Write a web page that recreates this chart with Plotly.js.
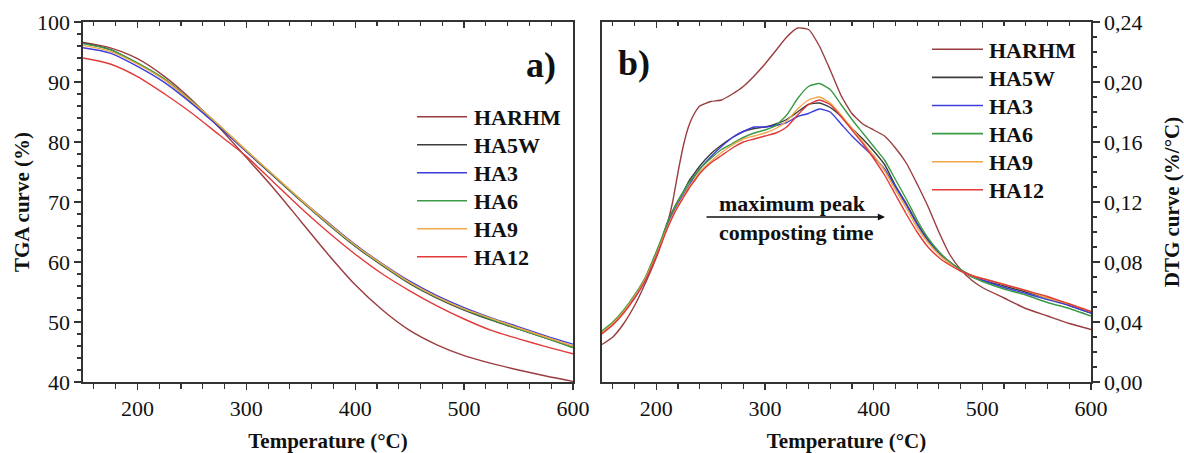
<!DOCTYPE html>
<html>
<head>
<meta charset="utf-8">
<script src="https://cdn.plot.ly/plotly-3.0.1.min.js"></script>
<style>html,body{margin:0;padding:0;background:#fff;}#chart{width:1184px;height:453px;}</style>
</head>
<body>
<div id="chart"></div>
<script>
// ---------- DATA ----------
const seriesNames = ["HARHM", "HA5W", "HA3", "HA6", "HA9", "HA12"];

// Panel a) TGA curve (%)
const tempTGA = [150,175,200,225,250,275,300,325,350,375,400,425,450,475,500,525,550,575,600];
const tgaHARHM = [96.6,95.7,93.9,90.9,87.0,82.4,77.4,72.3,66.8,61.3,56.2,52.0,48.6,46.2,44.4,43.1,42.0,41.0,40.1];
const tgaHA5W  = [96.5,95.4,93.1,90.4,86.6,82.6,78.4,74.3,70.2,66.3,62.6,59.4,56.4,54.0,52.0,50.3,48.8,47.3,45.8];
const tgaHA3   = [95.7,94.8,92.6,89.9,86.4,82.5,78.4,74.4,70.4,66.6,62.9,59.7,56.8,54.4,52.4,50.7,49.2,47.7,46.3];
const tgaHA6   = [96.4,95.4,93.2,90.5,86.8,82.8,78.6,74.4,70.3,66.4,62.7,59.5,56.5,54.1,52.1,50.4,48.8,47.3,45.7];
const tgaHA9   = [96.1,95.1,93.0,90.3,86.7,82.8,78.6,74.5,70.4,66.5,62.8,59.6,56.6,54.2,52.2,50.6,49.0,47.5,46.0];
const tgaHA12  = [94.0,93.0,90.9,88.0,84.8,81.2,77.6,73.3,69.0,65.0,61.3,58.0,55.2,52.7,50.5,48.6,47.2,45.9,44.7];

// Panel b) DTG curve (%/°C)
const tempDTG = [150,160,170,180,190,200,205,210,215,220,225,230,235,240,250,260,270,280,290,300,310,320,330,340,350,360,370,380,390,400,410,420,430,440,450,460,470,480,490,500,520,540,560,580,600];
const dtgHARHM = [.025,.030,.039,.051,.066,.083,.093,.105,.120,.140,.158,.171,.179,.184,.187,.188,.192,.197,.204,.212,.221,.230,.236,.235,.224,.208,.191,.179,.172,.168,.164,.156,.146,.132,.117,.100,.085,.075,.068,.063,.056,.049,.044,.039,.035];
const dtgHA5W  = [.033,.039,.047,.057,.069,.086,.095,.106,.114,.121,.127,.134,.139,.144,.152,.158,.163,.167,.169,.170,.172,.175,.180,.185,.186,.183,.177,.169,.162,.154,.145,.131,.119,.106,.095,.086,.080,.075,.071,.068,.064,.060,.056,.051,.046];
const dtgHA3   = [.033,.039,.047,.056,.068,.085,.094,.104,.112,.119,.125,.131,.137,.142,.150,.157,.163,.167,.170,.170,.171,.173,.177,.179,.182,.180,.172,.164,.157,.150,.142,.130,.118,.105,.094,.086,.080,.074,.071,.068,.063,.059,.055,.051,.046];
const dtgHA6   = [.034,.040,.048,.058,.070,.087,.096,.106,.114,.121,.127,.133,.137,.142,.149,.155,.159,.163,.166,.168,.171,.178,.189,.197,.199,.195,.185,.175,.166,.157,.148,.135,.122,.108,.096,.087,.080,.075,.070,.067,.062,.058,.053,.049,.044];
const dtgHA9   = [.033,.039,.047,.057,.069,.085,.094,.103,.111,.118,.124,.130,.135,.140,.147,.153,.158,.162,.164,.166,.169,.174,.182,.188,.190,.186,.178,.169,.160,.151,.141,.128,.116,.103,.093,.085,.079,.074,.071,.069,.065,.061,.056,.052,.047];
const dtgHA12  = [.032,.038,.046,.056,.068,.084,.093,.102,.110,.117,.123,.129,.134,.139,.146,.151,.156,.160,.162,.164,.166,.170,.178,.185,.188,.185,.177,.168,.159,.149,.138,.125,.112,.100,.090,.083,.078,.074,.071,.069,.065,.061,.057,.052,.047];

const xTickVals = [200,300,400,500,600];
const tgaTickVals = [40,50,60,70,80,90,100];
const dtgTickVals = [0,0.04,0.08,0.12,0.16,0.20,0.24];

// ---------- STYLE ----------
const colors = ["#9a3d3f", "#3c3c3c", "#3d3ddb", "#3a9a45", "#f0a848", "#e23a3a"];
const SERIF = "Liberation Serif";
const axisColor = "#333";
const tgaSets = [tgaHARHM, tgaHA5W, tgaHA3, tgaHA6, tgaHA9, tgaHA12];
const dtgSets = [dtgHARHM, dtgHA5W, dtgHA3, dtgHA6, dtgHA9, dtgHA12];

const W = 1184, H = 453;
const M = {l: 83, r: 93, t: 22, b: 71};
const plotW = W - M.l - M.r, plotH = H - M.t - M.b;
const pxToPaperX = px => (px - M.l) / plotW;
const pxToPaperY = py => 1 - (py - M.t) / plotH;

const traces = [];
seriesNames.forEach((n, i) => {
  traces.push({
    type: "scatter", mode: "lines", name: n, x: tempTGA, y: tgaSets[i],
    xaxis: "x", yaxis: "y", showlegend: false,
    line: {color: colors[i], width: 1.4, shape: "spline", smoothing: 0.8},
    hoverinfo: "skip"
  });
});
seriesNames.forEach((n, i) => {
  traces.push({
    type: "scatter", mode: "lines", name: n, x: tempDTG, y: dtgSets[i],
    xaxis: "x2", yaxis: "y2", showlegend: false,
    line: {color: colors[i], width: 1.4, shape: "spline", smoothing: 0.5},
    hoverinfo: "skip"
  });
});
// empty helper traces so the top (inward tick) axes exist
traces.push({type: "scatter", x: [], y: [], xaxis: "x3", yaxis: "y", showlegend: false, hoverinfo: "skip"});
traces.push({type: "scatter", x: [], y: [], xaxis: "x4", yaxis: "y2", showlegend: false, hoverinfo: "skip"});

const tickFont = {family: SERIF, size: 22, color: "#111"};
const titleFont = {family: SERIF, size: 21, color: "#111", weight: "bold"};
const legendFont = {family: SERIF, size: 22, color: "#111", weight: "bold"};

function xAxisBottom(domain, anchor) {
  return {
    domain: domain, anchor: anchor, range: [150, 600], autorange: false,
    tickmode: "array", tickvals: xTickVals,
    ticks: "outside", ticklen: 6, tickwidth: 1.3, tickcolor: axisColor,
    minor: {dtick: 20, tick0: 0, ticks: "outside", ticklen: 5, tickwidth: 1.2, tickcolor: axisColor},
    showline: true, linecolor: axisColor, linewidth: 1.6, mirror: true,
    showgrid: false, zeroline: false,
    tickfont: tickFont,
    title: {text: "Temperature (°C)", font: titleFont, standoff: 14},
    automargin: false
  };
}
function xAxisTop(overlay, anchor) {
  return {
    overlaying: overlay, anchor: anchor, side: "top", range: [150, 600], autorange: false,
    tickmode: "array", tickvals: xTickVals,
    ticks: "inside", ticklen: 6, tickwidth: 1.3, tickcolor: axisColor,
    minor: {dtick: 20, tick0: 0, ticks: "inside", ticklen: 4, tickwidth: 1.2, tickcolor: axisColor},
    showticklabels: false, showline: false, showgrid: false, zeroline: false
  };
}

// ---------- hand-built legends (longer sample lines, tighter rows as in the figure) ----------
const shapes = [];
const annotations = [];
function addLegend(lineX0, lineX1, textX, firstRowY, rowGap) {
  seriesNames.forEach((n, i) => {
    const py = firstRowY + i * rowGap;
    shapes.push({type: "line", xref: "paper", yref: "paper",
      x0: pxToPaperX(lineX0), x1: pxToPaperX(lineX1), y0: pxToPaperY(py), y1: pxToPaperY(py),
      line: {color: colors[i], width: 1.6}});
    annotations.push({xref: "paper", yref: "paper", x: pxToPaperX(textX), y: pxToPaperY(py + 1),
      text: n, showarrow: false, xanchor: "left", yanchor: "middle", font: legendFont});
  });
}
addLegend(417, 467, 472, 116.7, 28.0);
addLegend(932, 983, 987, 49.3, 28.1);

annotations.push(
  {xref: "x", yref: "y", x: 586, y: 92.8, text: "a)", showarrow: false, xanchor: "right", yanchor: "middle",
   font: {family: SERIF, size: 36, color: "#111", weight: "bold"}},
  {xref: "x2", yref: "y2", x: 163, y: 0.2127, text: "b)", showarrow: false, xanchor: "left", yanchor: "middle",
   font: {family: SERIF, size: 36, color: "#111", weight: "bold"}},
  {xref: "x2", yref: "y2", x: 255.8, y: 0.1193, text: "maximum peak", showarrow: false, xanchor: "left", yanchor: "middle",
   font: {family: SERIF, size: 22, color: "#111", weight: "bold"}},
  {xref: "x2", yref: "y2", x: 255.8, y: 0.1000, text: "composting time", showarrow: false, xanchor: "left", yanchor: "middle",
   font: {family: SERIF, size: 22, color: "#111", weight: "bold"}},
  {xref: "x2", yref: "y2", x: 410.4, y: 0.110, axref: "x2", ayref: "y2", ax: 244.8, ay: 0.110,
   text: "", showarrow: true, arrowhead: 2, arrowsize: 1.1, arrowwidth: 1.3, arrowcolor: "#111", standoff: 0}
);

const layout = {
  width: W, height: H,
  margin: {l: M.l, r: M.r, t: M.t, b: M.b, pad: 0},
  paper_bgcolor: "#fff", plot_bgcolor: "#fff",
  separators: ", ",
  font: {family: SERIF, color: "#111"},
  xaxis: xAxisBottom([0, pxToPaperX(573)], "y"),
  xaxis2: xAxisBottom([pxToPaperX(602), 1], "y2"),
  xaxis3: xAxisTop("x", "y"),
  xaxis4: xAxisTop("x2", "y2"),
  yaxis: {
    domain: [0, 1], anchor: "x", range: [40, 100], autorange: false,
    tickmode: "array", tickvals: tgaTickVals,
    ticks: "outside", ticklen: 7, tickwidth: 1.3, tickcolor: axisColor,
    minor: {dtick: 2, tick0: 0, ticks: "outside", ticklen: 4, tickwidth: 1.2, tickcolor: axisColor},
    showline: true, linecolor: axisColor, linewidth: 1.6, mirror: true,
    showgrid: false, zeroline: false, tickfont: tickFont,
    title: {text: "TGA curve (%)", font: titleFont, standoff: 1},
    automargin: false
  },
  yaxis2: {
    domain: [0, 1], anchor: "x2", side: "right", range: [0, 0.24], autorange: false,
    tickmode: "array", tickvals: dtgTickVals, tickformat: ".2f",
    ticks: "outside", ticklen: 7, tickwidth: 1.3, tickcolor: axisColor,
    minor: {dtick: 0.01, tick0: 0, ticks: "outside", ticklen: 4, tickwidth: 1.2, tickcolor: axisColor},
    showline: true, linecolor: axisColor, linewidth: 1.6, mirror: true,
    showgrid: false, zeroline: false, tickfont: tickFont,
    title: {text: "DTG curve (%/°C)", font: titleFont, standoff: 23},
    automargin: false
  },
  shapes: shapes,
  annotations: annotations,
  showlegend: false
};

Plotly.newPlot("chart", traces, layout, {staticPlot: true, displayModeBar: false});
</script>
</body>
</html>
